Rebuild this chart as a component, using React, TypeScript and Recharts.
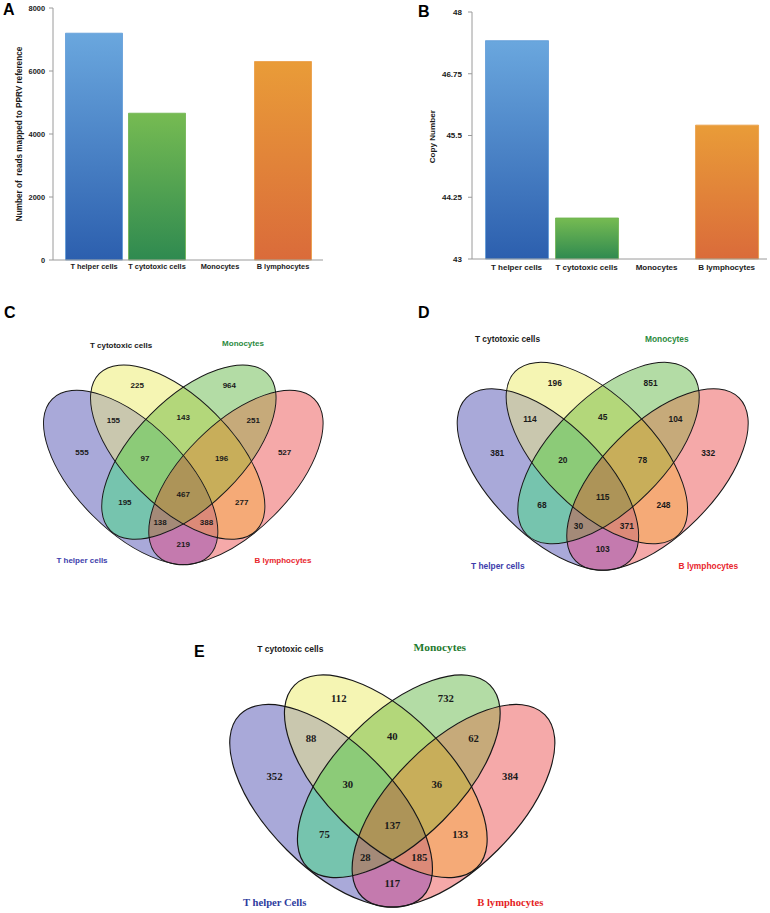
import React from 'react';
import { BarChart, Bar, XAxis, YAxis, Cell, ScatterChart, Scatter } from 'recharts';

// ---------------- data ----------------
const categories = ['T helper cells', 'T cytotoxic cells', 'Monocytes', 'B lymphocytes'];
const readsMapped = [7200, 4660, 0, 6300];
const readsTicks = [0, 2000, 4000, 6000, 8000];
const copyNumber = [47.42, 43.83, 43, 45.71];
const copyTicks = [43, 44.25, 45.5, 46.75, 48];

// Venn sets: A = T helper, B = T cytotoxic, C = Monocytes, D = B lymphocytes
const vennSetNames = ['T helper cells', 'T cytotoxic cells', 'Monocytes', 'B lymphocytes'];
const vennSetNamesE = ['T helper Cells', 'T cytotoxic cells', 'Monocytes', 'B lymphocytes'];
const vennRegionNames = [
  'Tc only', 'Mono only', 'Th∩Tc', 'Tc∩Mono', 'Mono∩B', 'Th only', 'Th∩Tc∩Mono', 'Tc∩Mono∩B',
  'B only', 'Th∩Tc∩Mono∩B', 'Th∩Mono', 'Tc∩B', 'Th∩Mono∩B', 'Th∩Tc∩B', 'Th∩B',
];
const vennC = [225, 964, 155, 143, 251, 555, 97, 196, 527, 467, 195, 277, 138, 388, 219];
const vennD = [196, 851, 114, 45, 104, 381, 20, 78, 332, 115, 68, 248, 30, 371, 103];
const vennE = [112, 732, 88, 40, 62, 352, 30, 36, 384, 137, 75, 133, 28, 185, 117];

// ---------------- styles / layout ----------------
const SANS = '"Liberation Sans", Arial, Helvetica, sans-serif';
const SERIF = '"Liberation Serif", "Times New Roman", Times, serif';
const AXIS_GRAY = '#9a9a9a';
const TEXT = '#1a1a1a';

const BAR_STYLES = [
  { top: '#6aa7de', bottom: '#2c5fae', stroke: '#5e9bd8' },
  { top: '#76bb52', bottom: '#2f8a50', stroke: '#6db34e' },
  { top: '#ffffff', bottom: '#ffffff', stroke: 'none' },
  { top: '#e99c38', bottom: '#da6b3a', stroke: '#ea9a40' },
];

const SEMI_MAJOR = 129;
const SEMI_MINOR = 62.5;
const ELLIPSE_LAYOUT = [
  { dx: -61.2, dy: 0, rot: 45 },
  { dx: -6.5, dy: -29.5, rot: 45 },
  { dx: 6.5, dy: -29.5, rot: -45 },
  { dx: 61.2, dy: 0, rot: -45 },
];
const REGION_LAYOUT = [
  { dx: -53.5, dy: -107.6, sets: [1] },
  { dx: 53.5, dy: -107.6, sets: [2] },
  { dx: -81.3, dy: -67.2, sets: [0, 1] },
  { dx: 0, dy: -70.1, sets: [1, 2] },
  { dx: 81.3, dy: -67.2, sets: [2, 3] },
  { dx: -117.8, dy: -29.6, sets: [0] },
  { dx: -44.5, dy: -22.1, sets: [0, 1, 2] },
  { dx: 44.5, dy: -22.1, sets: [1, 2, 3] },
  { dx: 117.8, dy: -29.6, sets: [3] },
  { dx: 0, dy: 19.3, sets: [0, 1, 2, 3] },
  { dx: -67.9, dy: 28.3, sets: [0, 2] },
  { dx: 67.9, dy: 28.3, sets: [1, 3] },
  { dx: -27, dy: 51.5, sets: [0, 2, 3] },
  { dx: 27, dy: 51.5, sets: [0, 1, 3] },
  { dx: 0, dy: 77.6, sets: [0, 3] },
];
const REGION_COLORS = [
  '#f5f5b3', '#b3dca5', '#c9c7ae', '#b3d77a', '#c6aa7a', '#a9a9d9', '#8ccb78', '#c8ae5a',
  '#f5a9a9', '#ad9458', '#76c4ae', '#f5aa77', '#a48a78', '#dc8a78', '#c47aae',
];

const catStyleCD = (size: number) => [
  { color: '#3d3dab', family: SANS, size },
  { color: TEXT, family: SANS, size },
  { color: '#2b8a3e', family: SANS, size },
  { color: '#e8262d', family: SANS, size },
];

// ---------------- bar charts ----------------
function BarPanel(props: any) {
  const { id, left, top, width, height, values, ticks, domain, margin, yWidth, xHeight, padding, barSize,
    fontSize, yTickMargin, xOffset, label, labelX, labelY, labelSize } = props;
  const data = categories.map((c, i) => ({ name: c, value: values[i] }));
  const tickStyle = { fontSize, fontWeight: 700, fill: TEXT, fontFamily: SANS };
  const renderLabel = () => (
    <text x={labelX} y={labelY} dy="0.35em" transform={`rotate(-90 ${labelX} ${labelY})`} textAnchor="middle"
      fontFamily={SANS} fontWeight={700} fontSize={labelSize} fill={TEXT} style={{ whiteSpace: 'pre' }}>
      {label}
    </text>
  );
  return (
    <div style={{ position: 'absolute', left, top }}>
      <BarChart width={width} height={height} data={data} margin={margin}>
        <defs>
          {BAR_STYLES.map((b, i) => (
            <linearGradient key={i} id={`${id}-g${i}`} x1="0" y1="0" x2="0" y2="1">
              <stop offset="0%" stopColor={b.top} />
              <stop offset="100%" stopColor={b.bottom} />
            </linearGradient>
          ))}
        </defs>
        <XAxis dataKey="name" height={xHeight} padding={padding} interval={0}
          axisLine={{ stroke: AXIS_GRAY }} tickLine={false} tickSize={2} tickMargin={xOffset} tick={tickStyle} />
        <YAxis type="number" width={yWidth} domain={domain} ticks={ticks} interval={0}
          axisLine={{ stroke: AXIS_GRAY }} tickLine={{ stroke: AXIS_GRAY }} tickSize={4} tickMargin={yTickMargin}
          tick={tickStyle} label={renderLabel} />
        <Bar dataKey="value" barSize={barSize} isAnimationActive={false}>
          {data.map((d, i) => (
            <Cell key={d.name} fill={`url(#${id}-g${i})`} stroke={BAR_STYLES[i].stroke} strokeWidth={0.8} />
          ))}
        </Bar>
      </BarChart>
    </div>
  );
}

// ---------------- venn diagrams ----------------
function Venn(props: any) {
  const { id, left, top, width, height, X, Yc, s, values, setNames, numberFamily, numberSize, catPos, catStyle, strokeWidth } = props;
  const ox = X - left;
  const oy = Yc - top;
  const rx = SEMI_MAJOR * s;
  const ry = SEMI_MINOR * s;
  const ellipses = ELLIPSE_LAYOUT.map((e, k) => ({ x: ox + e.dx * s, y: oy + e.dy * s, k, name: setNames[k] }));
  const regions = REGION_LAYOUT.map((r, i) => ({ x: ox + r.dx * s, y: oy + r.dy * s, i, name: vennRegionNames[i], value: values[i] }));
  const cats = catPos.map((p: number[], k: number) => ({ x: p[0] - left, y: p[1] - top, k, name: setNames[k] }));

  const ell = (cx: number, cy: number, k: number, extra: any) => (
    <ellipse key={k} cx={cx} cy={cy} rx={rx} ry={ry} transform={`rotate(${ELLIPSE_LAYOUT[k].rot} ${cx} ${cy})`} {...extra} />
  );

  const regionShape = (p: any) => {
    const i = p.payload.i;
    let node: any = (
      <rect x={0} y={0} width={width} height={height} fill={REGION_COLORS[i]} mask={`url(#${id}-m${i})`} />
    );
    const members = REGION_LAYOUT[i].sets;
    for (let j = members.length - 1; j >= 0; j--) {
      node = <g clipPath={`url(#${id}-c${members[j]})`}>{node}</g>;
    }
    return <g>{node}</g>;
  };
  const outlineShape = (p: any) => ell(p.cx, p.cy, p.payload.k, { fill: 'none', stroke: '#161616', strokeWidth });
  const numberShape = (p: any) => (
    <text x={p.cx} y={p.cy} dy="0.36em" textAnchor="middle" fontFamily={numberFamily} fontWeight={700}
      fontSize={numberSize} fill={TEXT}>{p.payload.value}</text>
  );
  const catShape = (p: any) => {
    const st = catStyle[p.payload.k];
    return (
      <text x={p.cx} y={p.cy} dy="0.36em" textAnchor="middle" fontFamily={st.family} fontWeight={700}
        fontSize={st.size} fill={st.color}>{p.payload.name}</text>
    );
  };

  return (
    <div style={{ position: 'absolute', left, top }}>
      <ScatterChart width={width} height={height} margin={{ top: 0, right: 0, bottom: 0, left: 0 }}>
        <defs>
          {ellipses.map((e) => (
            <clipPath key={e.k} id={`${id}-c${e.k}`}>{ell(e.x, e.y, e.k, {})}</clipPath>
          ))}
          {REGION_LAYOUT.map((r, i) => (
            <mask key={i} id={`${id}-m${i}`} maskUnits="userSpaceOnUse" x={0} y={0} width={width} height={height}>
              <rect x={0} y={0} width={width} height={height} fill="white" />
              {ellipses.filter((e) => !r.sets.includes(e.k)).map((e) => ell(e.x, e.y, e.k, { fill: 'black' }))}
            </mask>
          ))}
        </defs>
        <XAxis type="number" dataKey="x" domain={[0, width]} hide />
        <YAxis type="number" dataKey="y" domain={[0, height]} reversed hide />
        <Scatter data={regions} shape={regionShape} isAnimationActive={false} />
        <Scatter data={ellipses} shape={outlineShape} isAnimationActive={false} />
        <Scatter data={regions} shape={numberShape} isAnimationActive={false} />
        <Scatter data={cats} shape={catShape} isAnimationActive={false} />
      </ScatterChart>
    </div>
  );
}

const LETTERS = [
  { t: 'A', x: 3, y: 15 },
  { t: 'B', x: 418, y: 16.5 },
  { t: 'C', x: 4, y: 318 },
  { t: 'D', x: 418, y: 318.3 },
  { t: 'E', x: 194, y: 656.5 },
];

export default function App() {
  return (
    <div style={{ position: 'absolute', left: 0, top: 0, width: 770, height: 913, background: '#fff', overflow: 'hidden' }}>
      <BarPanel id="ba" left={0} top={0} width={340} height={280} values={readsMapped} ticks={readsTicks}
        domain={[0, 8000]} margin={{ top: 8, right: 17, bottom: 0, left: 0 }} yWidth={53} xHeight={20}
        padding={{ left: 9.5, right: 8.5 }} barSize={57} fontSize={7.4} yTickMargin={4} xOffset={2.2}
        label="Number of  reads mapped to PPRV reference" labelX={19} labelY={134} labelSize={8.2} />
      <BarPanel id="bb" left={385} top={0} width={385} height={280} values={copyNumber} ticks={copyTicks}
        domain={[43, 48]} margin={{ top: 12, right: 3, bottom: 0, left: 0 }} yWidth={87} xHeight={21}
        padding={{ left: 9.5, right: 5.4 }} barSize={63} fontSize={8} yTickMargin={6} xOffset={3.5}
        label="Copy Number" labelX={46.7} labelY={136.7} labelSize={8.1} />

      <Venn id="vc" left={0} top={290} width={385} height={290} X={183.3} Yc={477.5} s={0.86}
        values={vennC} setNames={vennSetNames} numberFamily={SANS} numberSize={8}
        catPos={[[82, 560], [121, 345.3], [243, 343.3], [283, 560]]} catStyle={catStyleCD(8)} strokeWidth={0.95} />
      <Venn id="vd" left={385} top={290} width={385} height={290} X={602.7} Yc={479.5} s={0.895}
        values={vennD} setNames={vennSetNames} numberFamily={SANS} numberSize={8.4}
        catPos={[[497.8, 565.7], [507.5, 339.3], [666.8, 338.7], [708.3, 565.7]]} catStyle={catStyleCD(8.4)} strokeWidth={1} />
      <Venn id="ve" left={180} top={630} width={420} height={283} X={392.3} Yc={805.8} s={1}
        values={vennE} setNames={vennSetNamesE} numberFamily={SERIF} numberSize={10.7}
        catPos={[[274.7, 902.3], [290.3, 649], [439.7, 647.3], [510.3, 902.3]]}
        catStyle={[
          { color: '#2e3c9e', family: SERIF, size: 10.6 },
          { color: TEXT, family: SANS, size: 8.5 },
          { color: '#1f7a2e', family: SERIF, size: 11.4 },
          { color: '#e41e26', family: SERIF, size: 10.6 },
        ]} strokeWidth={1.15} />

      <svg width={770} height={913} style={{ position: 'absolute', left: 0, top: 0, pointerEvents: 'none' }}>
        {LETTERS.map((l) => (
          <text key={l.t} x={l.x} y={l.y} fontFamily={SANS} fontWeight={700} fontSize={16} fill="#000">{l.t}</text>
        ))}
      </svg>
    </div>
  );
}
